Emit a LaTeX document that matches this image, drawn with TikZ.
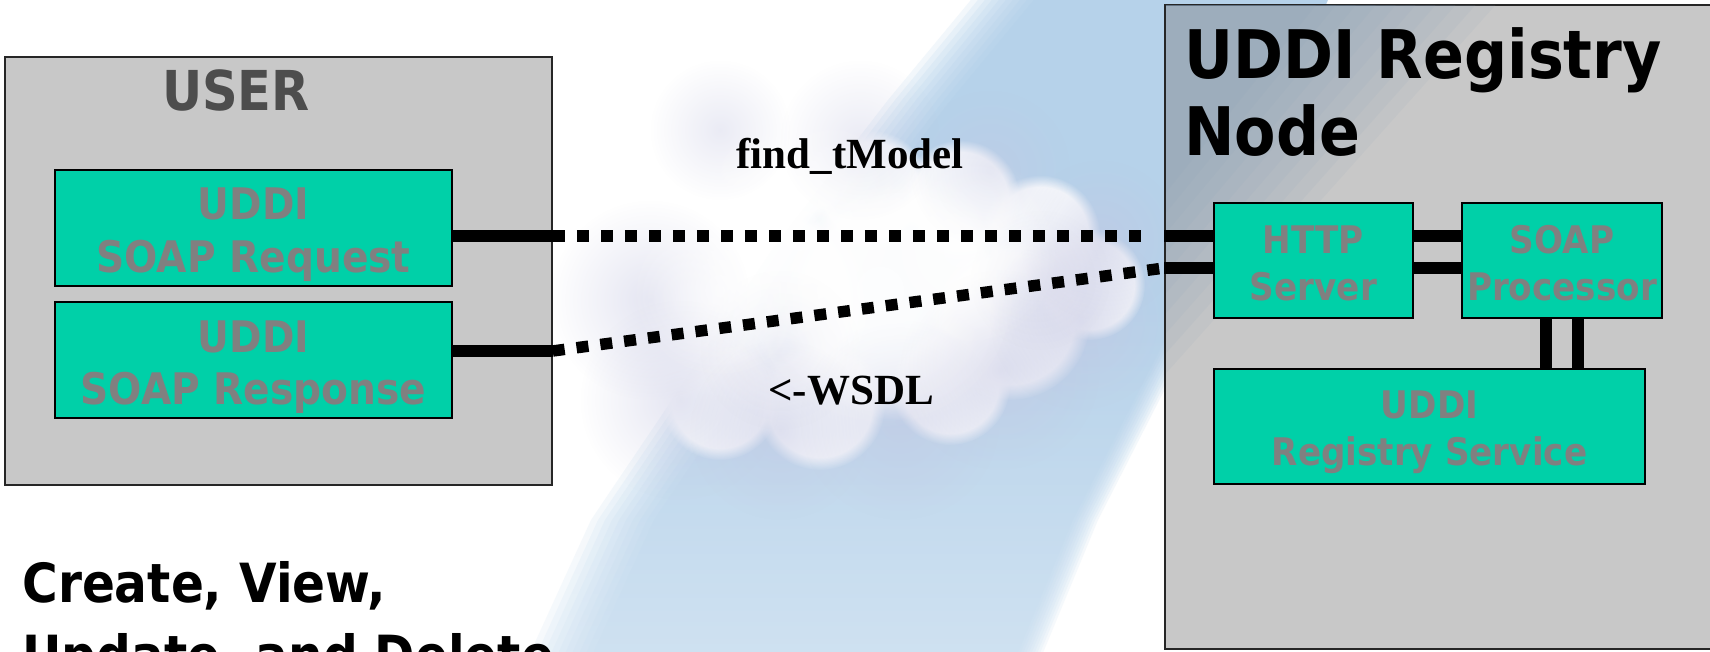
\documentclass[tikz,border=0pt]{standalone}
\usepackage{fontspec}
\usetikzlibrary{fadings}
\newfontfamily\tah[FakeStretch=0.9]{DejaVu Sans}
\newfontfamily\tms{Liberation Serif}
\definecolor{boxgray}{RGB}{200,200,200}
\definecolor{uddigreen}{RGB}{0,208,168}
\definecolor{ltxt}{RGB}{128,128,128}
\definecolor{usertxt}{RGB}{77,77,77}
\definecolor{beamA}{RGB}{164,200,231}
\definecolor{tintc}{RGB}{137,162,187}
\definecolor{cloudg}{RGB}{196,198,226}
\tikzfading[name=puffy, inner color=transparent!0, outer color=transparent!100]
\tikzfading[name=lowlight, top color=transparent!100, bottom color=transparent!0]
\tikzset{
  panel/.style={draw=black!85, line width=0.75pt, fill=boxgray, inner sep=0pt},
  gbox/.style={draw=black, line width=0.9pt, fill=uddigreen, inner sep=0pt},
  gtxt/.style={font=\tah\bfseries\fontsize{21.75}{27}\selectfont, text=ltxt, inner sep=0pt, anchor=base},
  stxt/.style={font=\tah\bfseries\fontsize{19}{23.5}\selectfont, text=ltxt, inner sep=0pt, anchor=base},
  ttl/.style={font=\tah\bfseries\fontsize{33.5}{40}\selectfont, inner sep=0pt, anchor=base west},
  big/.style={font=\tah\bfseries\fontsize{27}{33}\selectfont, inner sep=0pt, anchor=base west},
  lbl/.style={font=\tms\bfseries\fontsize{21.5}{26}\selectfont, inner sep=0pt, anchor=base},
  wire/.style={line width=5.75pt},
  dotwire/.style={line width=5.75pt, dash pattern=on 6pt off 6pt},
  puff/.style={path fading=puffy},
  lump/.style={path fading=circle with fuzzy edge 20 percent},
}
\begin{document}
\begin{tikzpicture}[x=0.5pt,y=-0.5pt]
\useasboundingbox (0,0) rectangle (1710,652);
\clip (0,0) rectangle (1710,652);
\fill[white] (0,0) rectangle (1710,652);

% light beam falling from the upper right, soft edges built from stacked layers
\foreach \s in {0,7,...,63}{
  \fill[beamA, opacity=0.14]
    ({975+\s},-5) -- (1330,-5) -- ({1190-0.4*\s},340) -- ({1098-0.4*\s},520) -- ({1040-0.4*\s},660)
    -- ({527+\s},660) -- ({591+\s},520) -- ({672+\s},400) -- ({772+\s},250) -- ({888+\s},100) -- cycle;
}
% the beam grows paler towards the bottom
\fill[white, path fading=lowlight, opacity=0.35] (480,300) rectangle (1180,660);

% cloud: white body
\foreach \x/\y/\r in {745/150/55,795/170/55,870/190/60,960/200/60,1040/235/60,1090/285/55,
                      680/260/70,655/355/55,760/300/110,900/300/120,1010/320/80,
                      720/400/60,820/405/65,950/385/60}{
  \fill[white, lump, fill opacity=0.92] (\x,\y) circle (\r);
}
% cloud: lavender shadows
\foreach \x/\y/\r/\o in {650/300/50/0.45,680/400/50/0.45,780/430/45/0.5,900/420/50/0.5,
                         1000/370/50/0.55,1080/320/45/0.55,1100/240/40/0.5,990/170/40/0.4,
                         860/140/40/0.35,720/130/35/0.35,780/350/40/0.25,1040/280/35/0.35}{
  \fill[cloudg, puff, fill opacity=\o] (\x,\y) circle ({2*\r});
}
% cloud: bright core
\foreach \x/\y/\r in {800/230/60,880/290/70,960/250/50,720/290/45}{
  \fill[white, puff, fill opacity=0.6] (\x,\y) circle ({2*\r});
}

% the two panels
\node[panel, minimum width=273.5pt, minimum height=214pt] (user) at (278.5,271) {};
\node[panel, minimum width=277.5pt, minimum height=322pt] (reg) at (1442.5,327) {};

% bluish cast in the upper left of the registry panel
\begin{scope}
  \clip (1166,6) rectangle (1720,648);
  \foreach \s in {0,20,...,180}{
    \fill[tintc, opacity=0.095] (1160,0) -- ({1500-\s},0) -- (1160,{380-\s}) -- cycle;
  }
\end{scope}

% connectors: request line
\draw[wire] (452,236) -- (user.east |- 0,236);
\coordinate (rqend) at (1142,236);
\draw[dotwire] (user.east |- 0,236) -- (rqend);
\draw[wire] (reg.west |- 0,236) -- (1214,236);
% connectors: response line
\draw[wire] (452,351) -- (user.east |- 0,351);
\draw[dotwire] (user.east |- 0,351) -- (reg.west |- 0,268);
\draw[wire] (reg.west |- 0,268) -- (1214,268);
% inside the registry node
\draw[wire] (1413,236) -- (1462,236);
\draw[wire] (1413,268) -- (1462,268);
\draw[wire] (1546,318) -- (1546,369);
\draw[wire] (1578,318) -- (1578,369);

% component boxes
\node[gbox, minimum width=198.5pt, minimum height=58pt] (req) at (253.5,228) {};
\node[gbox, minimum width=198.5pt, minimum height=58pt] (resp) at (253.5,360) {};
\node[gbox, minimum width=99.5pt, minimum height=57.5pt] (http) at (1313.5,260.5) {};
\node[gbox, minimum width=100pt, minimum height=57.5pt] (soap) at (1562,260.5) {};
\node[gbox, minimum width=215.5pt, minimum height=57.5pt] (svc) at (1429.5,426.5) {};

% texts
\node[font=\tah\bfseries\fontsize{27.5}{33}\selectfont, text=usertxt, inner sep=0pt, anchor=base] (usert) at (236,111) {USER};
\node[gtxt] (req1) at (253.5,220) {UDDI};
\node[gtxt] (req2) at (253.5,273) {SOAP Request};
\node[gtxt] (resp1) at (253.5,353) {UDDI};
\node[gtxt] (resp2) at (253.5,405) {SOAP Response};
\node[stxt] (http1) at (1313.5,254) {HTTP};
\node[stxt] (http2) at (1313.5,301) {Server};
\node[stxt] (soap1) at (1562,254) {SOAP};
\node[stxt] (soap2) at (1562,301) {Processor};
\node[stxt] (svc1) at (1429.5,419) {UDDI};
\node[stxt] (svc2) at (1429.5,466) {Registry Service};
\node[ttl] (regt1) at (1184,79) {UDDI Registry};
\node[ttl] (regt2) at (1184,156) {Node};
\node[lbl] (find) at (850,169) {find\_tModel};
\node[lbl] (wsdl) at (851,405) {<-WSDL};
\node[big] (crud1) at (22,602) {Create, View,};
\node[big] (crud2) at (22,674) {Update, and Delete};
\end{tikzpicture}
\end{document}
